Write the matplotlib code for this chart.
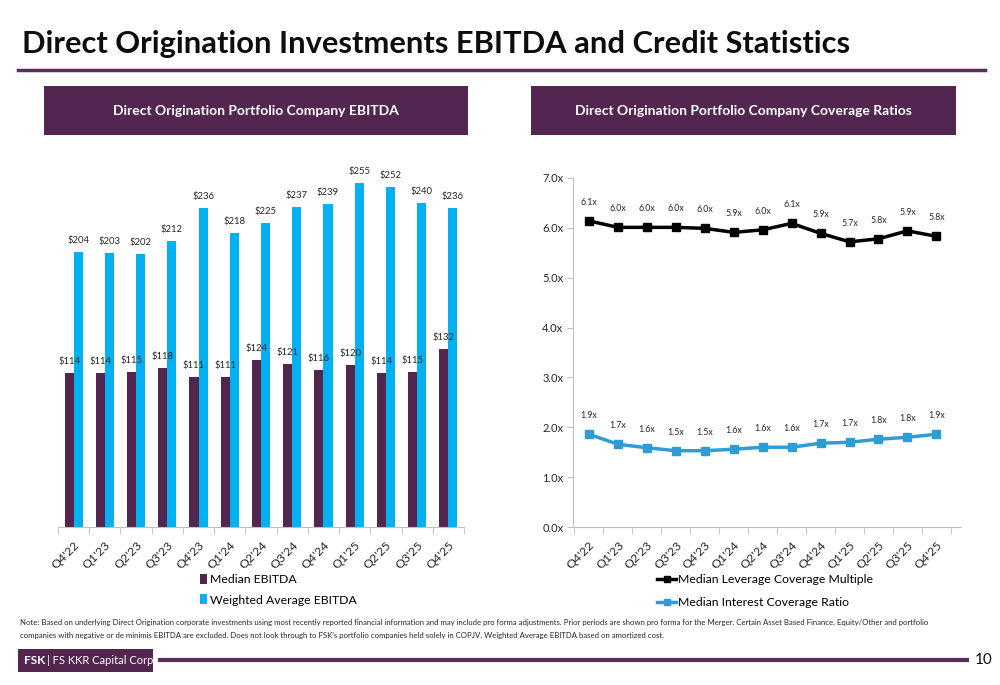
import numpy as np
import matplotlib
matplotlib.use("Agg")
import matplotlib.pyplot as plt
from matplotlib.patches import Rectangle
from matplotlib.lines import Line2D

plt.rcParams['font.family'] = ['Lato', 'DejaVu Sans']

quarters = ["Q4'22", "Q1'23", "Q2'23", "Q3'23", "Q4'23", "Q1'24", "Q2'24",
            "Q3'24", "Q4'24", "Q1'25", "Q2'25", "Q3'25", "Q4'25"]
median_ebitda = [114, 114, 115, 118, 111, 111, 124, 121, 116, 120, 114, 115, 132]
weighted_ebitda = [204, 203, 202, 212, 236, 218, 225, 237, 239, 255, 252, 240, 236]
leverage = [6.14, 6.01, 6.01, 6.01, 5.99, 5.91, 5.96, 6.09, 5.89, 5.72, 5.78, 5.94, 5.83]
interest = [1.86, 1.66, 1.59, 1.53, 1.53, 1.56, 1.60, 1.60, 1.68, 1.70, 1.76, 1.80, 1.86]

PURPLE = "#52264f"
BLUE = "#00b0f0"
LINE_BLUE = "#2e9dd6"
GRAY = "#bfbfbf"
TXT = "#262626"

W, H = 1000, 685
fig = plt.figure(figsize=(10, 6.85), dpi=100)


def fx(px):
    return px / W


def fy(py):
    return 1 - py / H


# title and rule
fig.text(fx(22), fy(53), "Direct Origination Investments EBITDA and Credit Statistics",
         fontsize=22.2, fontweight="bold", color="#0d0d0d", va="baseline", ha="left")
fig.add_artist(Line2D([fx(18), fx(985)], [fy(70), fy(70)], color="#5a2d5c", lw=2.5))

# header boxes
for x0, x1, label in [(44, 468, "Direct Origination Portfolio Company EBITDA"),
                      (531, 956, "Direct Origination Portfolio Company Coverage Ratios")]:
    fig.add_artist(Rectangle((fx(x0), fy(135)), fx(x1 - x0), (135 - 86) / H,
                             facecolor=PURPLE, edgecolor="none"))
    fig.text(fx((x0 + x1) / 2), fy(111), label, color="white", fontsize=10,
             fontweight="bold", ha="center", va="center")

x = np.arange(len(quarters))

# left chart: EBITDA bars
ax1 = fig.add_axes([fx(58), fy(527), fx(406), (527 - 149) / H])
bw = 0.29
b1 = ax1.bar(x - bw / 2, median_ebitda, bw, color=PURPLE, label="Median EBITDA")
b2 = ax1.bar(x + bw / 2, weighted_ebitda, bw, color=BLUE, label="Weighted Average EBITDA")
for xi, v in zip(x, median_ebitda):
    ax1.annotate(f"${v}", (xi - bw / 2, v), xytext=(0, 5), textcoords="offset points",
                 ha="center", va="bottom", fontsize=6.8, color=TXT)
for xi, v in zip(x, weighted_ebitda):
    ax1.annotate(f"${v}", (xi + bw / 2, v), xytext=(0, 5), textcoords="offset points",
                 ha="center", va="bottom", fontsize=6.8, color=TXT)
ax1.set_xlim(-0.5, 12.5)
ax1.set_ylim(0, 280)
ax1.set_yticks([])
for s in ["left", "right", "top"]:
    ax1.spines[s].set_visible(False)
ax1.spines["bottom"].set_color(GRAY)

# right chart: coverage lines
ax2 = fig.add_axes([fx(573), fy(527), fx(388), (527 - 178) / H])
l1, = ax2.plot(x, leverage, color="black", lw=2.5, marker="s", ms=6,
               label="Median Leverage Coverage Multiple")
l2, = ax2.plot(x, interest, color=LINE_BLUE, lw=2.5, marker="s", ms=6,
               label="Median Interest Coverage Ratio")
for xi, v in zip(x, leverage):
    ax2.annotate(f"{v:.1f}x", (xi, v), xytext=(0, 10), textcoords="offset points",
                 ha="center", va="bottom", fontsize=6.3, color=TXT)
for xi, v in zip(x, interest):
    ax2.annotate(f"{v:.1f}x", (xi, v), xytext=(0, 10), textcoords="offset points",
                 ha="center", va="bottom", fontsize=6.3, color=TXT)
ax2.set_xlim(-0.55, 12.85)
ax2.set_ylim(0, 7)
ax2.set_yticks(np.arange(0, 8))
ax2.set_yticklabels([f"{v:.1f}x" for v in range(8)], fontsize=8, color=TXT)
ax2.tick_params(axis="y", length=4, color=GRAY, pad=3)
for s in ["right", "top"]:
    ax2.spines[s].set_visible(False)
ax2.spines["left"].set_color(GRAY)
ax2.spines["bottom"].set_color(GRAY)

for ax in (ax1, ax2):
    ax.set_xticks(x)
    ax.set_xticklabels(quarters, rotation=45, ha="right", rotation_mode="anchor",
                       fontsize=8.8, color=TXT)
    ax.tick_params(axis="x", which="major", length=0, pad=9)
    ax.set_xticks(np.arange(-0.5, 13, 1), minor=True)
    ax.tick_params(axis="x", which="minor", length=5, color=GRAY)

# legends
fig.legend(handles=[b1, b2], loc="upper left", bbox_to_anchor=(fx(195), fy(569)),
           frameon=False, fontsize=8.8, handlelength=0.55, handleheight=0.9,
           handletextpad=0.3, labelspacing=0.75, borderaxespad=0)
fig.legend(handles=[l1, l2], loc="upper left", bbox_to_anchor=(fx(652), fy(569)),
           frameon=False, fontsize=8.8, handlelength=1.6, handletextpad=0.1,
           labelspacing=1.0, borderaxespad=0, markerscale=0.8)

# note
note = ("Note: Based on underlying Direct Origination corporate investments using most recently reported "
        "financial information and may include pro forma adjustments. Prior periods are shown pro forma for "
        "the Merger. Certain Asset Based Finance, Equity/Other and portfolio\ncompanies with negative or de "
        "minimis EBITDA are excluded. Does not look through to FSK's portfolio companies held solely in COPJV. "
        "Weighted Average EBITDA based on amortized cost.")
fig.text(fx(20), fy(619), note, fontsize=5.6, color=TXT, va="top", ha="left", linespacing=2.0)

# footer
fig.add_artist(Rectangle((fx(18), fy(672)), fx(135), (672 - 649) / H,
                         facecolor=PURPLE, edgecolor="none"))
fig.text(fx(24), fy(660.5), "FSK", color="white", fontsize=8.5, fontweight="bold", va="center")
fig.text(fx(47), fy(660.5), "| FS KKR Capital Corp.", color="white", fontsize=8, va="center")
fig.add_artist(Line2D([fx(160), fx(967)], [fy(660), fy(660)], color="#5a2d5c", lw=3))
fig.text(fx(975), fy(660), "10", fontsize=11, color="#0d0d0d", va="center", ha="left")

fig.savefig("out.png", dpi=100)
